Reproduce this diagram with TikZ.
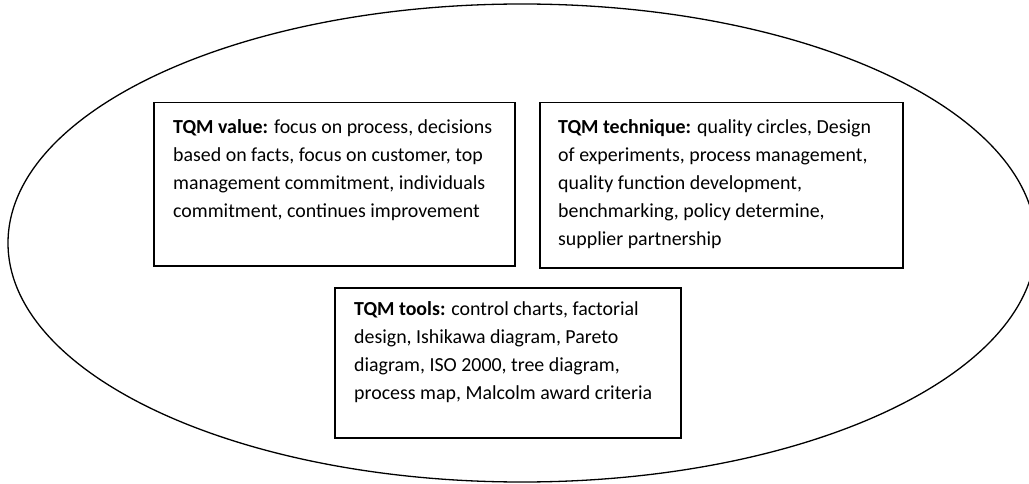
\documentclass[tikz,border=0pt]{standalone}
\usepackage{fontspec}
\setmainfont{Carlito}
\begin{document}
\begin{tikzpicture}[x=1pt, y=-1pt, font=\fontsize{19.9}{28}\selectfont,
    tqmbox/.style={draw, line width=1.5pt, anchor=north west, inner sep=0pt},
    tqmtext/.style={anchor=north west, inner sep=0pt, align=left}]
    % Units are the pixels of the reference, y grows downward
    \useasboundingbox (0,0) rectangle (1029,484);

    % --- OUTER ELLIPSE ---
    \coordinate (C) at (522,243);
    \draw[line width=1.3pt] (C) ellipse [x radius=514, y radius=239];

    % --- BOXES ---
    \node[tqmbox, minimum width=361pt, minimum height=163pt] (valueBox) at (153,102) {};
    \node[tqmbox, minimum width=363pt, minimum height=165pt] (techBox) at (539,102) {};
    \node[tqmbox, minimum width=346pt, minimum height=150pt] (toolsBox) at (334,287) {};

    % --- TEXTS ---
    \node[tqmtext] (valueText) at ([xshift=20pt, yshift=-17pt]valueBox.north west)
        {\textbf{TQM value:} focus on process, decisions\\
         based on facts, focus on customer, top\\
         management commitment, individuals\\
         commitment, continues improvement};
    \node[tqmtext] (techText) at ([xshift=19pt, yshift=-17pt]techBox.north west)
        {\textbf{TQM technique:} quality circles, Design\\
         of experiments, process management,\\
         quality function development,\\
         benchmarking, policy determine,\\
         supplier partnership};
    \node[tqmtext] (toolsText) at ([xshift=20pt, yshift=-14pt]toolsBox.north west)
        {\textbf{TQM tools:} control charts, factorial\\
         design, Ishikawa diagram, Pareto\\
         diagram, ISO 2000, tree diagram,\\
         process map, Malcolm award criteria};
\end{tikzpicture}
\end{document}
